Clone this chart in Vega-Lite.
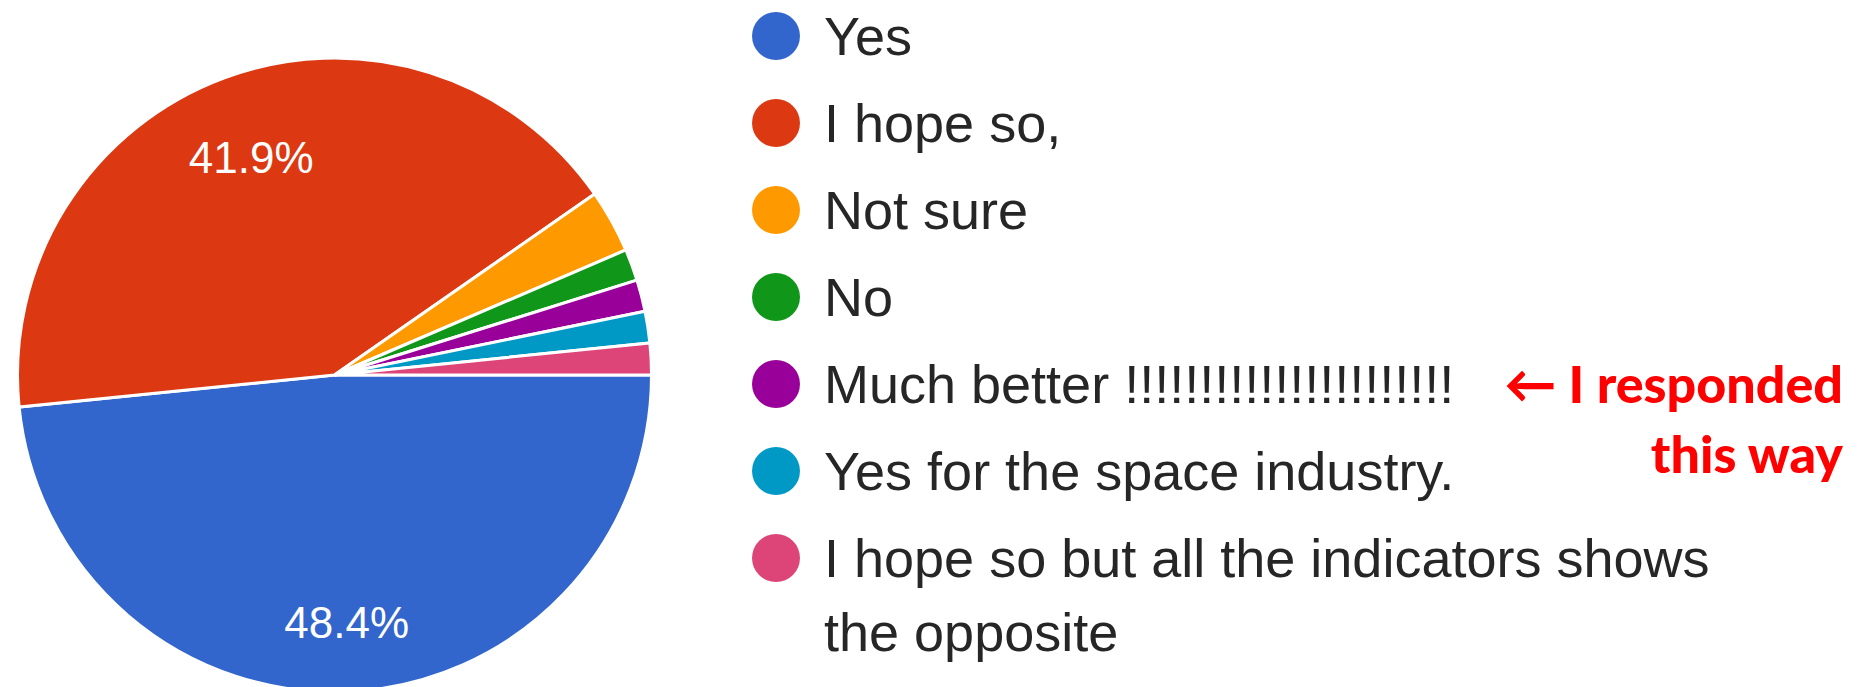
{
  "$schema": "https://vega.github.io/schema/vega-lite/v6.json",
  "width": 669,
  "height": 636,
  "autosize": {"type": "none"},
  "padding": {"left": 0, "top": 57, "right": 1201, "bottom": -6},
  "background": "white",
  "config": {"view": {"stroke": null}},
  "data": {
    "values": [
      {"order": 1, "answer": "Yes", "count": 30, "share": 0.484},
      {"order": 2, "answer": "I hope so,", "count": 26, "share": 0.419},
      {"order": 3, "answer": "Not sure", "count": 2, "share": 0.032},
      {"order": 4, "answer": "No", "count": 1, "share": 0.016},
      {"order": 5, "answer": "Much better !!!!!!!!!!!!!!!!!!!!!!", "count": 1, "share": 0.016},
      {"order": 6, "answer": "Yes for the space industry.", "count": 1, "share": 0.016},
      {"order": 7, "answer": "I hope so but all the indicators shows\nthe opposite", "count": 1, "share": 0.016}
    ]
  },
  "layer": [
    {
      "mark": {"type": "arc", "outerRadius": 317, "stroke": "white", "strokeWidth": 3},
      "encoding": {
        "theta": {"field": "count", "type": "quantitative", "stack": true, "scale": {"range": [1.5708, 7.854]}},
        "order": {"field": "order", "type": "quantitative"},
        "color": {
          "field": "answer",
          "type": "nominal",
          "scale": {
            "domain": ["Yes", "I hope so,", "Not sure", "No", "Much better !!!!!!!!!!!!!!!!!!!!!!", "Yes for the space industry.", "I hope so but all the indicators shows\nthe opposite"],
            "range": ["#3366cc", "#dc3912", "#ff9900", "#109618", "#990099", "#0099c6", "#dd4477"]
          },
          "legend": null
        }
      }
    },
    {
      "mark": {"type": "text", "radius": 240, "dy": 10, "font": "Liberation Sans", "fontSize": 44, "fill": "white"},
      "encoding": {
        "theta": {"field": "count", "type": "quantitative", "stack": true},
        "order": {"field": "order", "type": "quantitative"},
        "text": {"field": "share", "type": "quantitative", "format": ".1%"},
        "opacity": {"condition": {"test": "datum.count < 20", "value": 0}, "value": 1}
      }
    },
    {
      "mark": {"type": "circle", "size": 2300, "opacity": 1},
      "encoding": {
        "x": {"datum": 776, "type": "quantitative", "scale": {"domain": [0, 1870], "range": [0, 1870], "nice": false, "zero": false}, "axis": null},
        "y": {"field": "order", "type": "quantitative", "scale": {"domain": [1, 7], "range": [-21, 501], "nice": false, "zero": false}, "axis": null},
        "color": {"field": "answer", "type": "nominal", "legend": null}
      }
    },
    {
      "mark": {"type": "text", "align": "left", "baseline": "top", "dy": -24, "font": "Liberation Sans", "fontSize": 54, "lineBreak": "\n", "lineHeight": 74, "fill": "#262626"},
      "encoding": {
        "x": {"datum": 824, "type": "quantitative", "axis": null},
        "y": {"field": "order", "type": "quantitative", "axis": null},
        "text": {"field": "answer", "type": "nominal"}
      }
    },
    {
      "transform": [{"filter": "datum.order == 5"}],
      "mark": {"type": "text", "align": "right", "baseline": "top", "dy": -22, "font": "Lato", "fontWeight": 900, "fontSize": 52, "lineHeight": 70, "fill": "#ff0000"},
      "encoding": {
        "x": {"datum": 1843, "type": "quantitative", "axis": null},
        "y": {"field": "order", "type": "quantitative", "axis": null},
        "text": {"value": ["← I responded", "this way"]}
      }
    }
  ]
}
